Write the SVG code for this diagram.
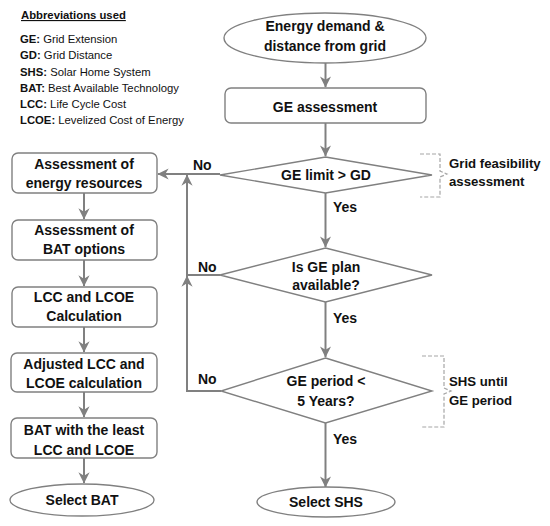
<svg xmlns="http://www.w3.org/2000/svg" width="550" height="526" viewBox="0 0 550 526">
<style>
.shape{fill:#fff;stroke:#808080;stroke-width:1.4}
.conn{fill:none;stroke:#808080;stroke-width:2}
.brace{fill:none;stroke:#a6a6a6;stroke-width:1.2;stroke-dasharray:4 2}
.t{font-family:"Liberation Sans",Arial,sans-serif;font-weight:bold;font-size:14px;fill:#111;text-anchor:middle}
.lab{font-family:"Liberation Sans",Arial,sans-serif;font-weight:bold;font-size:14px;fill:#111}
.side{font-family:"Liberation Sans",Arial,sans-serif;font-weight:bold;font-size:13.2px;fill:#111}
.ab{font-family:"Liberation Sans",Arial,sans-serif;font-size:11.3px;fill:#111}
.ab tspan.b{font-weight:bold}
</style>
<defs>
<marker id="arr" viewBox="0 0 10 10" refX="9.5" refY="5" markerWidth="5.6" markerHeight="5.6" orient="auto" markerUnits="strokeWidth">
<path d="M0,0 L10,5 L0,10 L3,5 z" fill="#808080"/>
</marker>
</defs>

<g id="legend">
<text x="21" y="19" class="ab" style="font-weight:bold;text-decoration:underline">Abbreviations used</text>
<text x="20" y="43" class="ab"><tspan class="b">GE:</tspan> Grid Extension</text>
<text x="20" y="59" class="ab"><tspan class="b">GD:</tspan> Grid Distance</text>
<text x="20" y="76" class="ab"><tspan class="b">SHS:</tspan>  Solar Home System</text>
<text x="20" y="92" class="ab"><tspan class="b">BAT:</tspan> Best Available Technology</text>
<text x="20" y="108" class="ab"><tspan class="b">LCC:</tspan> Life Cycle Cost</text>
<text x="20" y="124" class="ab"><tspan class="b">LCOE:</tspan>  Levelized Cost of Energy</text>
</g>

<g id="connectors">
<line class="conn" x1="325.5" y1="63" x2="325.5" y2="87" marker-end="url(#arr)"/>
<line class="conn" x1="325.5" y1="123" x2="325.5" y2="156" marker-end="url(#arr)"/>
<line class="conn" x1="325.5" y1="193" x2="325.5" y2="247" marker-end="url(#arr)"/>
<line class="conn" x1="325.5" y1="302" x2="325.5" y2="357" marker-end="url(#arr)"/>
<line class="conn" x1="325.5" y1="423" x2="325.5" y2="487" marker-end="url(#arr)"/>
<line class="conn" x1="220" y1="174" x2="158" y2="174" marker-end="url(#arr)"/>
<polyline class="conn" points="220,275 187,275 187,175" marker-end="url(#arr)"/>
<polyline class="conn" points="221,391 187,391 187,276" marker-end="url(#arr)"/>
<line class="conn" x1="84" y1="193" x2="84" y2="219" marker-end="url(#arr)"/>
<line class="conn" x1="84" y1="260" x2="84" y2="286" marker-end="url(#arr)"/>
<line class="conn" x1="84" y1="327" x2="84" y2="352" marker-end="url(#arr)"/>
<line class="conn" x1="84" y1="392" x2="84" y2="417" marker-end="url(#arr)"/>
<line class="conn" x1="84" y1="458" x2="84" y2="483" marker-end="url(#arr)"/>
<text x="193" y="170" class="lab">No</text>
<text x="198" y="272" class="lab">No</text>
<text x="198" y="384" class="lab">No</text>
<text x="333" y="212" class="lab">Yes</text>
<text x="333" y="323" class="lab">Yes</text>
<text x="333" y="444" class="lab">Yes</text>
</g>

<g id="start">
<ellipse class="shape" cx="325" cy="38" rx="101" ry="25"/>
<text x="325" y="31" class="t">Energy demand &amp;</text>
<text x="325" y="51" class="t">distance from grid</text>
</g>

<g id="ge-assessment">
<rect class="shape" x="225" y="88" width="201" height="35" rx="6"/>
<text x="325" y="112" class="t">GE assessment</text>
</g>

<g id="d-limit">
<polygon class="shape" points="325.5,157 432,175 325.5,193 220,175"/>
<text x="326" y="180" class="t">GE limit &gt; GD</text>
</g>

<g id="d-plan">
<polygon class="shape" points="325.5,248 432,275 325.5,302 220,275"/>
<text x="326" y="272" class="t">Is GE plan</text>
<text x="326" y="290" class="t">available?</text>
</g>

<g id="d-period">
<polygon class="shape" points="325.5,358 432,391 325.5,423 221,391"/>
<text x="326" y="386" class="t">GE period &lt;</text>
<text x="326" y="406" class="t">5 Years?</text>
</g>

<g id="select-shs">
<ellipse class="shape" cx="326" cy="502" rx="69" ry="15"/>
<text x="326" y="507" class="t">Select SHS</text>
</g>

<g id="grid-feasibility">
<path class="brace" d="M420,154 H440 V171 L447,174 L440,177 V197 H420"/>
<text x="449" y="168" class="side">Grid feasibility</text>
<text x="449" y="186" class="side">assessment</text>
</g>

<g id="shs-until">
<path class="brace" d="M422,356 H444 V388 L451,391 L444,394 V427 H422"/>
<text x="449" y="386" class="side">SHS until</text>
<text x="449" y="405" class="side">GE period</text>
</g>

<g id="energy-resources">
<rect class="shape" x="12" y="153" width="145" height="40" rx="6"/>
<text x="84" y="169" class="t">Assessment of</text>
<text x="84" y="188" class="t">energy resources</text>
</g>

<g id="bat-options">
<rect class="shape" x="12" y="220" width="145" height="40" rx="6"/>
<text x="84" y="235" class="t">Assessment of</text>
<text x="84" y="254" class="t">BAT options</text>
</g>

<g id="lcc-calc">
<rect class="shape" x="12" y="287" width="145" height="40" rx="6"/>
<text x="84" y="302" class="t">LCC and LCOE</text>
<text x="84" y="321" class="t">Calculation</text>
</g>

<g id="adjusted">
<rect class="shape" x="11" y="353" width="146" height="39" rx="6"/>
<text x="84" y="369" class="t">Adjusted LCC and</text>
<text x="84" y="388" class="t">LCOE calculation</text>
</g>

<g id="bat-least">
<rect class="shape" x="11" y="418" width="146" height="40" rx="6"/>
<text x="84" y="435" class="t">BAT with the least</text>
<text x="84" y="455" class="t">LCC and LCOE</text>
</g>

<g id="select-bat">
<ellipse class="shape" cx="82" cy="500" rx="72" ry="16"/>
<text x="82" y="505" class="t">Select BAT</text>
</g>
</svg>
